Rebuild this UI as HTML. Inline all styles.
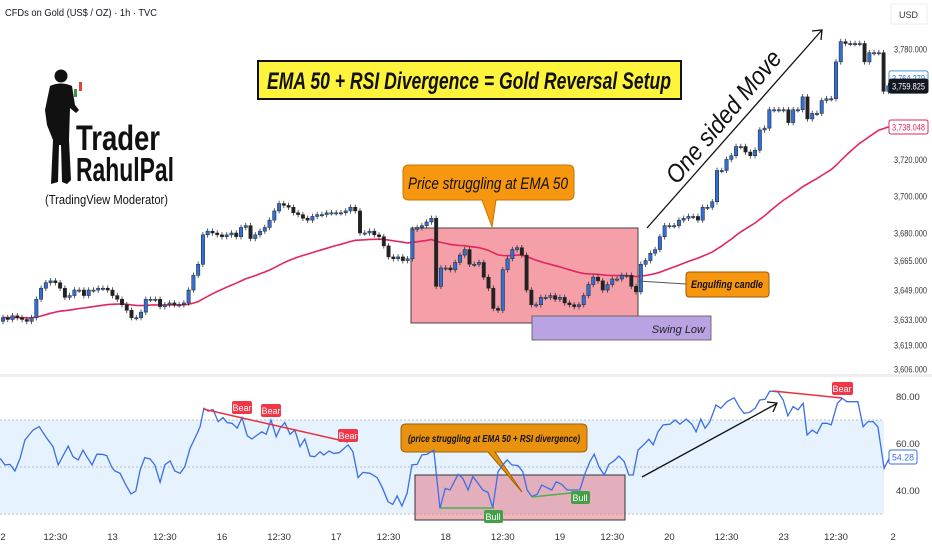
<!DOCTYPE html>
<html><head><meta charset="utf-8"><style>
body{margin:0;width:932px;height:550px;overflow:hidden;background:#fff;font-family:"Liberation Sans",sans-serif;}
svg{display:block}
</style></head><body>
<svg id="c" width="932" height="550" viewBox="0 0 932 550">
<text x="5" y="16" font-size="10" fill="#131722" textLength="152" lengthAdjust="spacingAndGlyphs">CFDs on Gold (US$ / OZ) · 1h · TVC</text>
<rect x="891" y="4" width="36" height="20" fill="#fff" stroke="#eee"/>
<text x="899" y="18" font-size="9" fill="#333">USD</text>
<rect x="0" y="420" width="884" height="94" fill="#e6f2fd"/>
<line x1="0" y1="420" x2="884" y2="420" stroke="#aaa" stroke-dasharray="2,2" stroke-width="0.8"/>
<line x1="0" y1="467" x2="884" y2="467" stroke="#aaa" stroke-dasharray="2,2" stroke-width="0.8"/>
<line x1="0" y1="514" x2="884" y2="514" stroke="#aaa" stroke-dasharray="2,2" stroke-width="0.8"/>
<rect x="0" y="374" width="932" height="3" fill="#eceef2"/>
<g>
<g fill="#111">
<circle cx="61" cy="76" r="6.5"/>
<path d="M50 86 Q61 81 72 86 L75 105 L79 110 L76 113 L70 108 L69 140 L71 180 L67 184 L62 182 L61 145 L59 145 L58 182 L51 184 L53 140 L47 125 L45 110 Z"/>
</g>
<rect x="74" y="89" width="3" height="8" fill="#3a9a4a"/>
<rect x="79" y="82" width="3" height="9" fill="#e0443b"/>
<text x="76" y="150" font-size="35" font-weight="bold" fill="#111" textLength="84" lengthAdjust="spacingAndGlyphs">Trader</text>
<text x="76" y="181" font-size="33" font-weight="bold" fill="#111" textLength="98" lengthAdjust="spacingAndGlyphs">RahulPal</text>
<text x="45" y="204" font-size="13" fill="#111" textLength="123" lengthAdjust="spacingAndGlyphs">(TradingView Moderator)</text>
</g>
<rect x="258" y="61" width="423" height="38" fill="#fff43c" stroke="#111" stroke-width="2"/>
<text x="469" y="89" text-anchor="middle" font-size="24" font-style="italic" font-weight="bold" fill="#111" textLength="404" lengthAdjust="spacingAndGlyphs">EMA 50 + RSI Divergence = Gold Reversal Setup</text>
<rect x="411" y="228" width="227" height="95" fill="#f5a0a8" stroke="#444" stroke-width="1"/>
<rect x="532" y="316" width="179" height="24" fill="#b9a3e3" stroke="#555" stroke-width="0.8"/>
<text x="705" y="333" text-anchor="end" font-size="11" font-style="italic" fill="#222">Swing Low</text>
<g id="price"></g>
<g id="rsi"></g>
<path d="M409 165 H568 Q574 165 574 171 V194 Q574 200 568 200 H496 L492 227 L482 200 H409 Q403 200 403 194 V171 Q403 165 409 165 Z" fill="#f7960f" stroke="#c97400" stroke-width="1"/>
<text x="488" y="189" text-anchor="middle" font-size="17" font-style="italic" fill="#111" textLength="160" lengthAdjust="spacingAndGlyphs">Price struggling at EMA 50</text>
<line x1="638" y1="281" x2="686" y2="284" stroke="#555" stroke-width="1"/>
<rect x="686" y="272" width="83" height="25" rx="3" fill="#f7960f" stroke="#9a5a00"/>
<text x="727" y="288" text-anchor="middle" font-size="11" font-style="italic" font-weight="bold" fill="#111" textLength="72" lengthAdjust="spacingAndGlyphs">Engulfing candle</text>
<line x1="647" y1="228" x2="822" y2="30" stroke="#111" stroke-width="1.3"/>
<path d="M812 31 L822 30 L821 40" fill="none" stroke="#111" stroke-width="1.3"/>
<text x="0" y="0" transform="translate(730,122) rotate(-50)" text-anchor="middle" font-size="25" font-style="italic" fill="#111" textLength="165" lengthAdjust="spacingAndGlyphs">One sided Move</text>
<rect x="415" y="475" width="210" height="45" fill="rgba(226,120,135,0.55)" stroke="#333"/>
<path d="M406 424 H582 Q587 424 587 429 V447 Q587 452 582 452 H495 L522 492 L488 452 H406 Q401 452 401 447 V429 Q401 424 406 424 Z" fill="#e8920f" stroke="#a06000"/>
<text x="494" y="442" text-anchor="middle" font-size="10" font-style="italic" font-weight="bold" fill="#111" textLength="172" lengthAdjust="spacingAndGlyphs">(price struggling at EMA 50 + RSI divergence)</text>
<line x1="642" y1="477" x2="776" y2="404" stroke="#111" stroke-width="1.3"/>
<path d="M767 402 L777 403 L773 412" fill="none" stroke="#111" stroke-width="1.3"/>
<g id="rsiline"></g>
<line x1="203" y1="409" x2="348" y2="442" stroke="#e8303f" stroke-width="1.5"/>
<line x1="773" y1="391" x2="842" y2="398" stroke="#e8303f" stroke-width="1.5"/>
<line x1="440" y1="508" x2="494" y2="508" stroke="#4caf50" stroke-width="1.5"/>
<line x1="532" y1="497" x2="580" y2="492" stroke="#4caf50" stroke-width="1.5"/>
<g font-size="9" fill="#fff" text-anchor="middle">
<rect x="232" y="401" width="20" height="13" rx="2" fill="#f23645"/><text x="242" y="411">Bear</text>
<rect x="261" y="404" width="20" height="13" rx="2" fill="#f23645"/><text x="271" y="414">Bear</text>
<rect x="338" y="429" width="20" height="13" rx="2" fill="#f23645"/><text x="348" y="439">Bear</text>
<rect x="832" y="382" width="21" height="13" rx="2" fill="#f23645"/><text x="842" y="392">Bear</text>
<rect x="484" y="510" width="19" height="13" rx="2" fill="#43a047"/><text x="493" y="520">Bull</text>
<rect x="571" y="491" width="19" height="13" rx="2" fill="#43a047"/><text x="580" y="501">Bull</text>
</g>
<g id="axes" font-size="9.5" fill="#333"></g>
</svg>
<script>
const closes=[3634,3633,3635,3634,3633,3632,3634,3644,3650,3653,
3654,3653,3650,3645,3646,3649,3649,3646,3649,3649,
3650,3650,3649,3646,3644,3641,3638,3634,3634,3637,
3644,3644,3644,3640,3641,3642,3641,3641,3642,3649,
3657,3663,3679,3681,3680,3679,3678,3679,3680,3678,
3683,3684,3677,3679,3681,3683,3687,3692,3696,3695,
3694,3691,3690,3688,3687,3689,3690,3690,3691,3691,
3691,3691,3692,3694,3692,3680,3680,3681,3679,3678,
3673,3667,3666,3667,3665,3666,3682,3683,3684,3686,
3688,3651,3661,3661,3660,3664,3668,3671,3663,3663,
3664,3656,3650,3639,3638,3660,3666,3671,3672,3668,
3649,3641,3641,3645,3645,3646,3644,3645,3642,3641,
3640,3641,3646,3652,3656,3654,3649,3652,3655,3655,
3657,3657,3651,3648,3663,3665,3669,3671,3678,3684,
3684,3684,3687,3688,3689,3689,3687,3694,3694,3697,
3714,3714,3720,3722,3727,3727,3724,3722,3725,3736,
3737,3747,3747,3747,3747,3740,3747,3747,3754,3742,
3745,3745,3752,3753,3753,3773,3784,3783,3783,3783,
3783,3773,3778,3778,3778,3757,3760];
const firstOpen=3632;
const rsiBar=[-0.6,0.4,1.5,2.5,3.6,4.6,6.3,7.6,9.2,10.5,11.6,13.7,14.7,15.8,16.8,17.6,18.7,19.7,20.8,21.8,22.9,23.5,24.6,25.6,26.9,27.9,28.8,29.8,30.9,31.9,33,34,35.1,36.1,37.2,38.2,39.3,40.8,41.4,42.2,43.1,44.1,45.2,46.2,47.1,48.1,49.2,50.2,51.3,52.3,53.4,54.4,55.3,56.3,57.4,58.2,59.2,60.3,61.3,62.4,63.4,64.5,65.5,66.6,67.4,68.5,69.5,70.6,72.5,73.5,74.6,75.6,77.1,78.6,79.6,80.9,81.9,82.8,83.8,84.9,85.9,87,88,89.1,90.5,
91.8,92.9,93.9,95.6,96.6,97.7,98.7,99.8,100.8,101.9,102.9,104,105,105.9,106.9,108.2,109.2,110.1,111.1,112.2,113.2,114.3,115.3,116.2,117.4,118.5,119.7,121.2,122.3,123.3,124.2,125.2,126.3,127.3,128.4,129.4,130.5,131.5,132.4,133.4,134.7,135.7,136.6,137.6,138.7,140.1,141.2,142.2,143.5,144.7,145.6,146.6,147.5,148.5,149.8,150.8,152.1,153.6,154.8,155.7,156.9,158,159,160.1,161.1,162.8,163.9,164.9,166,167,168.1,168.9,170,171,172.1,173.1,174,175.3,176.3,177.3,178.6,179.6,180.7,181.7,182.8,183.8,185.1,186.3];
const rsiVal=[53.7,50.9,51.1,48.3,53.7,61.5,65.7,67.2,62.2,58.7,50.9,58.9,54.4,53,57.2,54.4,50.9,55.4,55.4,54.8,49.7,48.3,47.3,43.1,38.5,39.8,48.7,54,53.4,50.9,43.5,50.9,52.6,48.3,47.3,50.1,58,64.3,67.2,75,73.8,74.5,69.3,71,68.9,68.6,66.5,71,63.3,61.9,63.6,65,63.9,70,62.9,66.5,68.9,63.9,65.7,58.7,61.9,54.7,54.4,56.5,55.1,56.8,55.8,56.1,59.4,56.5,45.5,47.7,47.3,45.5,41.6,35.2,34.1,37.7,33.4,38.8,50.9,51.1,55.1,55.4,57.2,
32.4,40.9,40.2,46.9,45.2,40.2,45.9,43.1,40.2,39.2,32.7,48,50.9,53,50.9,50.6,48,40.2,37.4,38.4,42.3,41.2,40.2,43.7,42.6,40.2,40.2,40.2,47.3,52.3,55.4,50.1,46.6,51.1,52.7,54.7,52.3,46.6,46.6,57.2,59.7,61.8,59.4,65,67.9,68.2,70,68.2,70.4,68.2,65,70.4,66.5,69.3,76.4,75,77.8,79.5,75.2,72.8,73.3,75,78.5,78.8,82.3,82,78.5,71.8,75.7,74.3,77.1,63.6,65.7,64.3,68.6,68.6,67.9,77.1,79.2,77.8,77.8,77.8,67.1,69.3,69.3,67.1,49.4,54.3];
const priceTicks=[3780,3720,3700,3680,3665,3649,3633,3619,3606];
const rsiTicks=[80,60,40];
const timeLabels=["2","12:30","13","12:30","16","12:30","17","12:30","18","12:30","19","12:30","20","12:30","23","12:30","2"];
const timeBars=[0,11,23,34,46,58,70,81,93,105,117,128,140,152,164,175,187];

const NS="http://www.w3.org/2000/svg";
const xB=i=>3+i*4.76;
const yP=p=>49+(3780-p)*1.84;
const yR=v=>420+(70-v)*2.35;
function mk(tag,attrs,parent){const e=document.createElementNS(NS,tag);for(const k in attrs)e.setAttribute(k,attrs[k]);parent.appendChild(e);return e;}
const gp=document.getElementById('price');
let ema=[];let a=2/51;closes.forEach((c,i)=>{ema.push(i?ema[i-1]+a*(c-ema[i-1]):c);});
let d=ema.map((v,i)=>(i?'L':'M')+xB(i).toFixed(1)+' '+yP(v).toFixed(1)).join(' ');
const emaPath=mk('path',{d:d,fill:'none',stroke:'#e3245f','stroke-width':1.6},gp);


closes.forEach((c,i)=>{
 const o=i?closes[i-1]:firstOpen;const x=xB(i);
 const hi=Math.max(o,c)+1.5,lo=Math.min(o,c)-1.5;const bull=c>=o;
 const w=mk('line',{x1:x,x2:x,y1:yP(hi),y2:yP(lo),stroke:'#333','stroke-width':0.8},gp);
 
 
 const top=yP(Math.max(o,c)),h=Math.max(1.2,yP(Math.min(o,c))-top);
 const r=mk('rect',{x:x-1.7,y:top,width:3.4,height:h,fill:bull?'#2f6fd6':'#222',stroke:'#222','stroke-width':0.5},gp);
 
 
});
const gr=document.getElementById('rsiline');
let rd=rsiBar.map((b,i)=>(i?'L':'M')+xB(b).toFixed(1)+' '+yR(rsiVal[i]).toFixed(1)).join(' ');
const rp=mk('path',{d:rd,fill:'none',stroke:'#3b6ee6','stroke-width':1.3},gr);


const ax=document.getElementById('axes');
priceTicks.forEach(p=>{const t=mk('text',{x:894,y:yP(p)+3.5,textLength:33,lengthAdjust:'spacingAndGlyphs'},ax);t.textContent=p.toLocaleString('en-US',{minimumFractionDigits:3});
 
 });
rsiTicks.forEach(v=>{const t=mk('text',{x:896,y:yR(v)+3.5},ax);t.textContent=v.toFixed(2);
 
 });
timeLabels.forEach((s,i)=>{const t=mk('text',{x:xB(timeBars[i]),y:540,'text-anchor':'middle'},ax);t.textContent=s;
 
 });
function tag(y,txt,bg,stroke,fg,name,w){const g=mk('g',{},ax);
 mk('rect',{x:889,y:y-7,width:w+6,height:14,fill:bg,stroke:stroke,rx:2},g);const t=mk('text',{x:892,y:y+3.5,fill:fg,textLength:w,lengthAdjust:'spacingAndGlyphs'},g);t.textContent=txt;}
tag(yP(3764.279),'3,764.279','#fff','#4a90e2','#2a6fd6','last-price-tag',33);
tag(yP(3759.825),'3,759.825','#131722','#131722','#fff','close-price-tag',33);
tag(yP(ema[ema.length-1]),'3,738.048','#fff','#e3245f','#e3245f','ema-price-tag',33);
tag(yR(54.28),'54.28','#fff','#3b6ee6','#3b6ee6','rsi-value-tag',22);
</script>
</body></html>
